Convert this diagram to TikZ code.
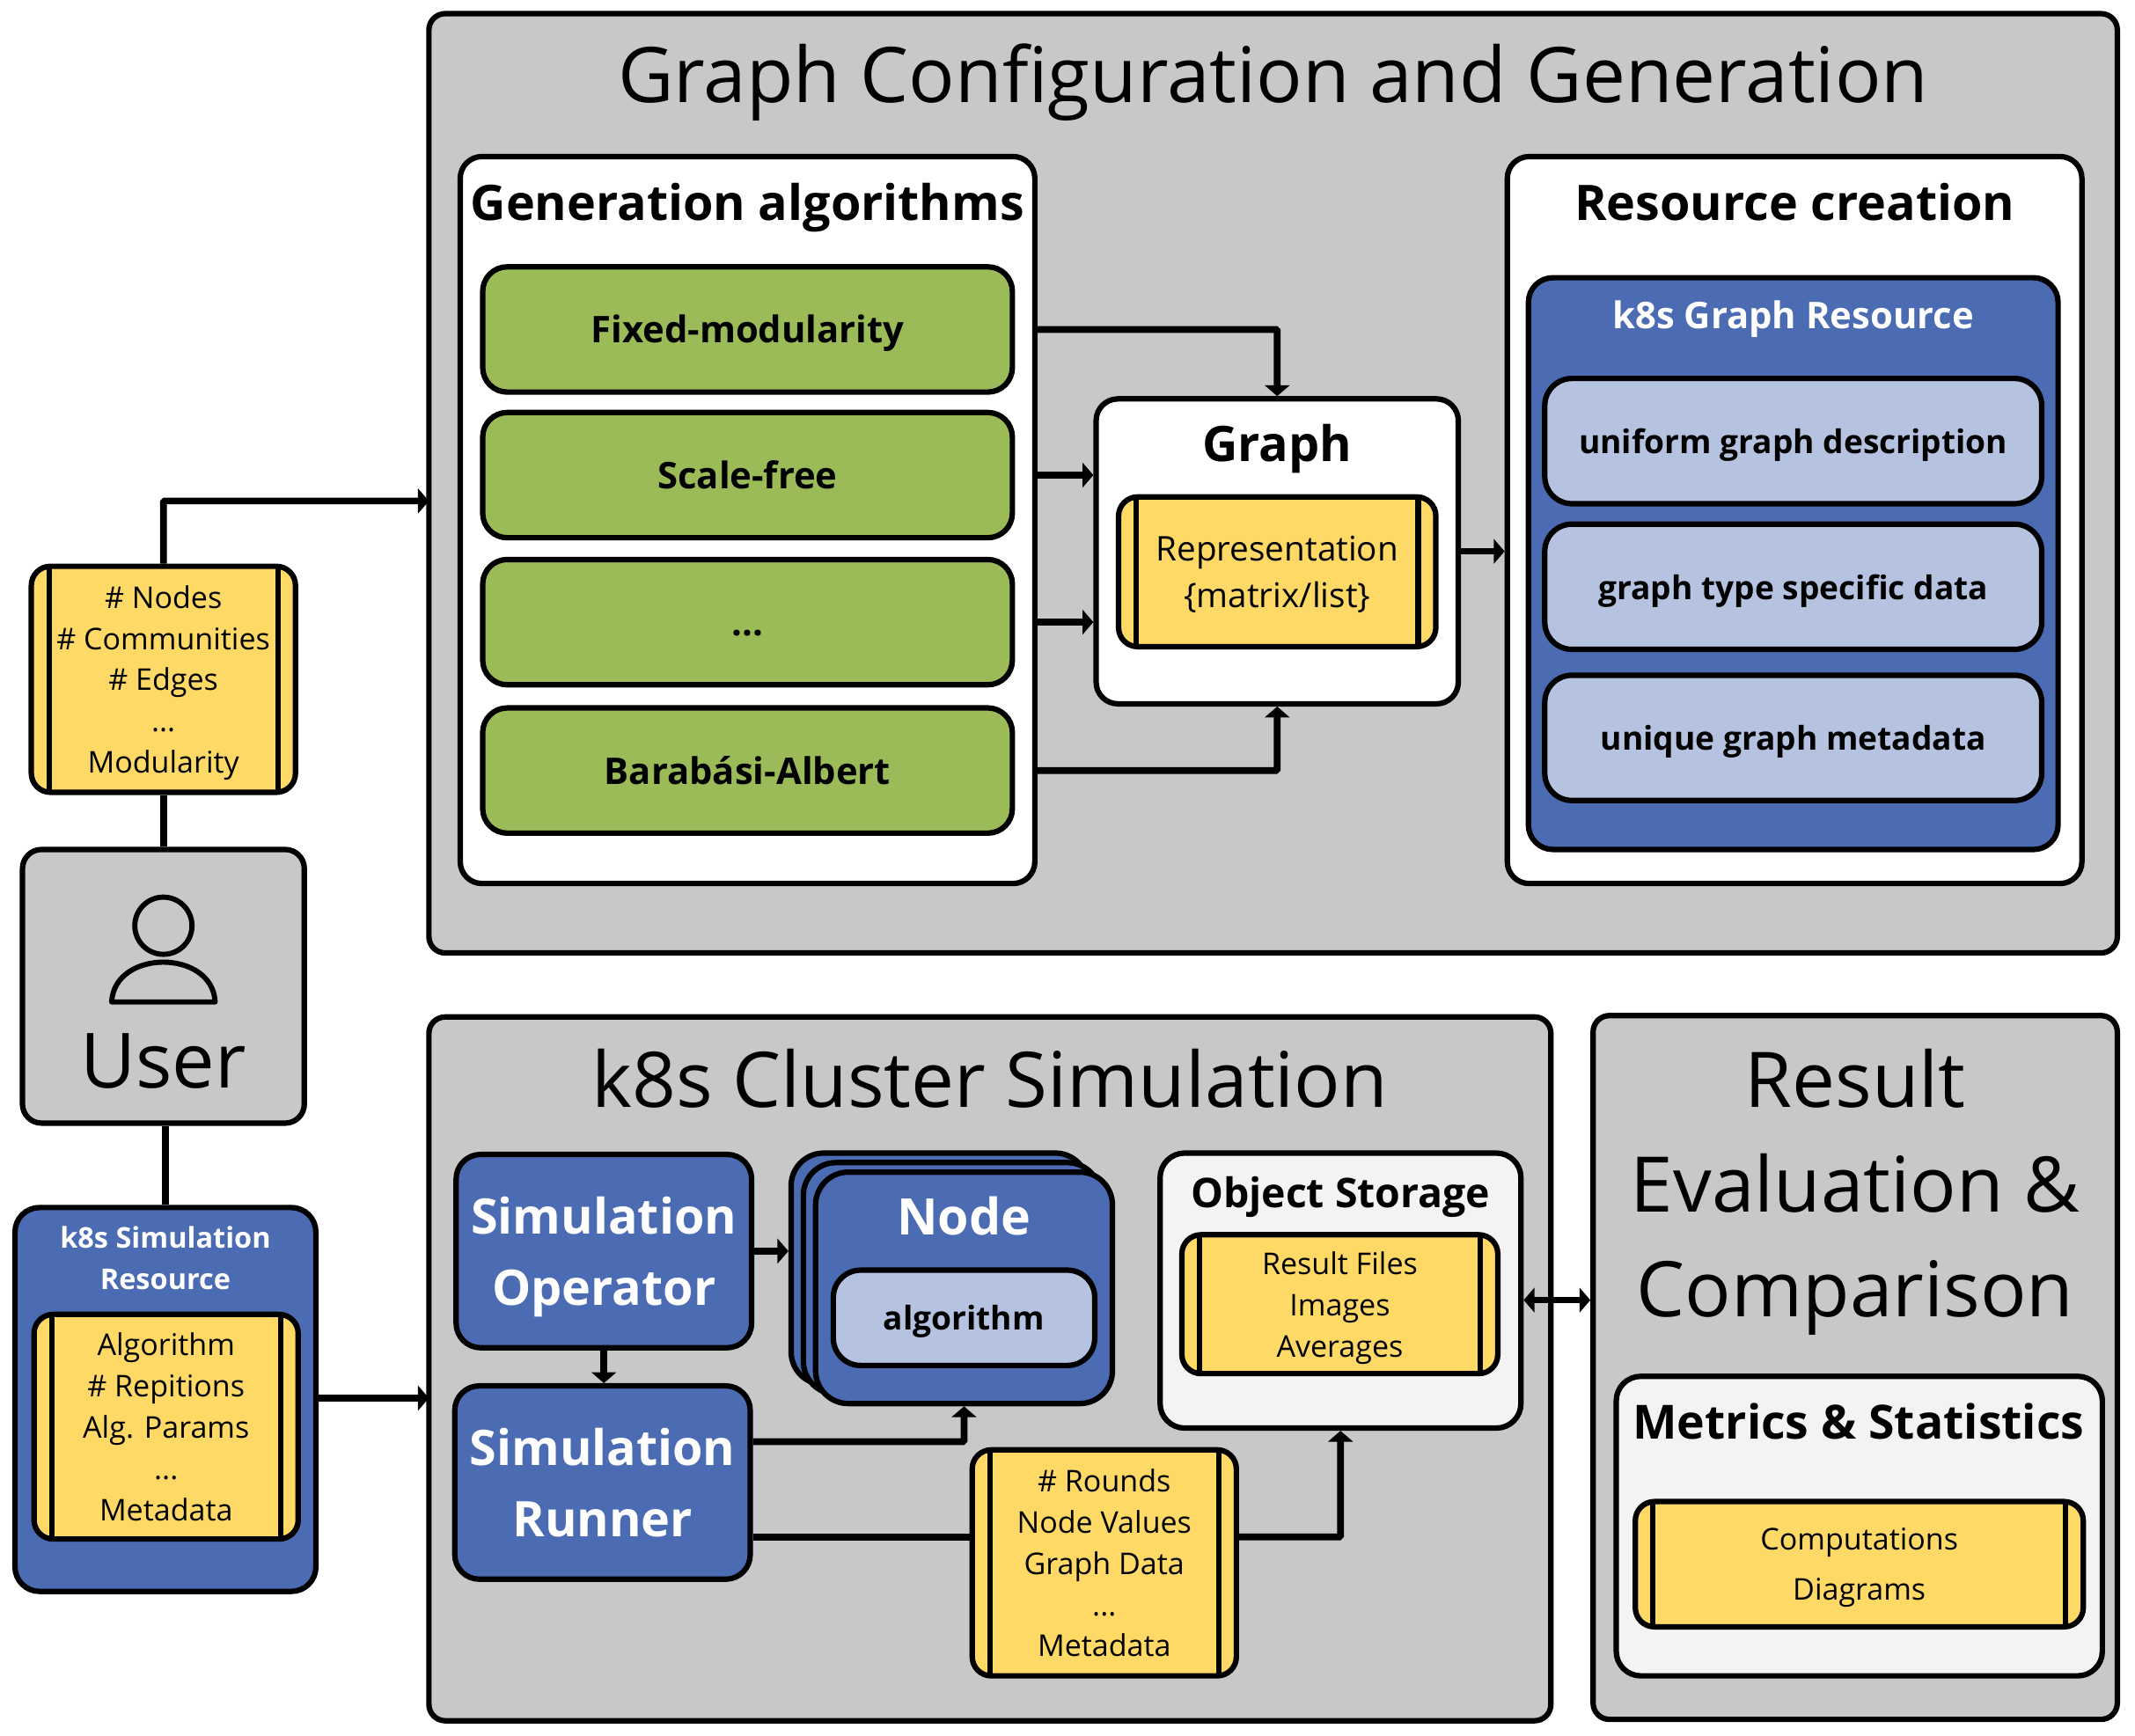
\documentclass[tikz,border=0pt]{standalone}
\usepackage{fontspec}
\setmainfont{Open Sans}
\usepackage{xcolor}
\usetikzlibrary{arrows.meta, positioning, calc}
\definecolor{panelGray}{RGB}{200, 200, 200}
\definecolor{paleGray}{RGB}{243, 243, 243}
\definecolor{k8sBlue}{RGB}{75, 107, 179}
\definecolor{paleBlue}{RGB}{181, 194, 224}
\definecolor{algoGreen}{RGB}{155, 187, 89}
\definecolor{dataYellow}{RGB}{255, 217, 102}
\newcommand{\fs}[2]{\fontsize{#1}{#2}\selectfont}
\tikzset{
    basebox/.style n args={2}{draw=black, line width=4pt, align=center, minimum width=#1, minimum height=#2, inner sep=0pt, text depth=0pt},
    panel/.style 2 args={basebox={#1}{#2}, fill=panelGray, rounded corners=12pt},
    whitebox/.style 2 args={basebox={#1}{#2}, fill=white, rounded corners=16pt},
    palebox/.style 2 args={basebox={#1}{#2}, fill=paleGray, rounded corners=18pt},
    algobox/.style 2 args={basebox={#1}{#2}, fill=algoGreen, rounded corners=18pt, text height=20pt, font=\fs{27}{33}\bfseries},
    bluebox/.style 2 args={basebox={#1}{#2}, fill=k8sBlue, rounded corners=18pt},
    lightbox/.style 2 args={basebox={#1}{#2}, fill=paleBlue, rounded corners=20pt, font=\fs{24}{30}\bfseries},
    databox/.style 2 args={basebox={#1}{#2}, fill=dataYellow, rounded corners=14pt, font=\fs{22}{30.3},
        path picture={
            \draw[line width=4pt] ([xshift=13pt]path picture bounding box.north west) -- ([xshift=13pt]path picture bounding box.south west);
            \draw[line width=4pt] ([xshift=-13pt]path picture bounding box.north east) -- ([xshift=-13pt]path picture bounding box.south east);
        }},
    conn/.style={line width=5pt, rounded corners=1pt},
    flow/.style={conn, -{Triangle[length=8pt, width=18pt]}},
    bothflow/.style={conn, {Triangle[length=8pt, width=18pt]}-{Triangle[length=8pt, width=18pt]}},
    heading/.style={font=\fs{56.4}{77}, align=center, inner sep=0pt, text depth=0pt},
    subheading/.style={font=\fs{36}{44}\bfseries, align=center, inner sep=0pt, text depth=0pt},
    bluelabel/.style={font=\fs{27}{36}\bfseries, text=white, align=center, inner sep=0pt, text depth=0pt},
    biglabel/.style={font=\fs{36}{52}\bfseries, text=white, align=center, text depth=0pt}
}

\begin{document}
\begin{tikzpicture}[x=1pt, y=-1pt]
    \useasboundingbox (0, 0) rectangle (1568, 1275);

    % Graph configuration panel
    \node[panel={1240pt}{690pt}] (graphpanel) at (935, 355) {};
    \node[heading] (graphtitle) at (935, 54) {Graph Configuration and Generation};

    % Generation algorithms
    \node[whitebox={422pt}{534pt}] (genbox) at (549, 382) {};
    \node[subheading] (gentitle) at (549, 148) {Generation algorithms};
    \node[algobox={389pt}{92pt}] (fixedmod) at (549, 242) {Fixed-modularity};
    \node[algobox={389pt}{92pt}] (scalefree) at (549, 349) {Scale-free};
    \node[algobox={389pt}{92pt}] (moregen) at (549, 457) {...};
    \node[algobox={389pt}{92pt}] (barabasi) at (549, 566) {Barabási-Albert};

    % Graph
    \node[whitebox={266pt}{224pt}] (graphbox) at (938, 405) {};
    \node[subheading] (graphlabel) at (938, 325) {Graph};
    \node[databox={233pt}{110pt}, font=\fs{25}{34}] (repr) at (938, 420) {Representation\\\{matrix/list\}};

    % Resource creation
    \node[whitebox={422pt}{534pt}] (resbox) at (1318, 382) {};
    \node[subheading] (restitle) at (1318, 148) {Resource creation};
    \node[bluebox={389pt}{420pt}] (graphres) at (1317, 414) {};
    \node[bluelabel] (graphreslabel) at (1317, 231) {k8s Graph Resource};
    \node[lightbox={365pt}{92pt}] (uniform) at (1317, 324) {uniform graph description};
    \node[lightbox={365pt}{92pt}] (typedata) at (1317, 431) {graph type specific data};
    \node[lightbox={365pt}{92pt}] (metadata) at (1317, 542) {unique graph metadata};

    % User side
    \node[databox={194pt}{166pt}] (params) at (120, 499) {\# Nodes\\\# Communities\\\# Edges\\...\\Modularity};
    \node[panel={207pt}{201pt}, rounded corners=14pt] (user) at (120, 724.5) {};
    \node[font=\fs{56}{70}, inner sep=0pt, text depth=0pt] (userlabel) at (120, 779) {User};
    \draw[line width=3.8pt] (120, 680) circle (21);
    \draw[line width=3.8pt, line join=round] (82, 736) .. controls (84, 697) and (156, 697) .. (158, 736) -- cycle;
    \node[bluebox={221pt}{282pt}] (simres) at (121.5, 1028) {};
    \node[bluelabel, font=\fs{21}{30.3}\bfseries] (simreslabel) at (121.5, 924) {k8s Simulation\\Resource};
    \node[databox={194pt}{165pt}] (simparams) at (122, 1048) {Algorithm\\\# Repitions\\Alg. Params\\...\\Metadata};

    % Cluster simulation panel
    \node[panel={824pt}{517pt}] (cluster) at (727, 1005.5) {};
    \node[heading] (clustertitle) at (727, 792) {k8s Cluster Simulation};
    \node[bluebox={217pt}{142pt}] (operator) at (443.5, 919) {};
    \node[biglabel] (operatorlabel) at (443.5, 919) {Simulation\\Operator};
    \node[bluebox={217pt}{142pt}] (runner) at (442.5, 1089) {};
    \node[biglabel] (runnerlabel) at (442.5, 1089) {Simulation\\Runner};
    \node[bluebox={218pt}{170pt}, rounded corners=24pt] (nodeback) at (690, 932) {};
    \node[bluebox={218pt}{170pt}, rounded corners=24pt] (nodemid) at (699, 939) {};
    \node[bluebox={218pt}{170pt}, rounded corners=24pt] (nodefront) at (708, 946) {};
    \node[biglabel, font=\fs{37}{52}\bfseries] (nodelabel) at (708, 893) {Node};
    \node[lightbox={192pt}{70pt}] (algorithm) at (708, 968) {algorithm};
    \node[palebox={265pt}{202pt}] (storage) at (984.5, 948) {};
    \node[subheading, font=\fs{30}{38}\bfseries] (storagelabel) at (984.5, 876) {Object Storage};
    \node[databox={232pt}{102pt}] (results) at (984, 958) {Result Files\\Images\\Averages};
    \node[databox={194pt}{166pt}] (rounds) at (811, 1148) {\# Rounds\\Node Values\\Graph Data\\...\\Metadata};

    % Result evaluation panel
    \node[panel={385pt}{517pt}] (evalpanel) at (1362.5, 1004.5) {};
    \node[heading] (evaltitle) at (1362.5, 869) {Result\\Evaluation \&\\Comparison};
    \node[palebox={357pt}{220pt}] (metrics) at (1365.5, 1121) {};
    \node[subheading, font=\fs{34.6}{42}\bfseries] (metricslabel) at (1365, 1044) {Metrics \& Statistics};
    \node[databox={329pt}{92pt}, font=\fs{22}{37}] (computations) at (1365.5, 1149) {Computations\\Diagrams};

    % Connector levels
    \coordinate (graphin) at (315, 368);
    \coordinate (clusterin) at (315, 1027);
    \coordinate (nodeline) at (630, 1059);
    \coordinate (dataline) at (630, 1129);
    \coordinate (evalline) at (1143, 955);

    % Arrows
    \draw[flow] (genbox.east |- fixedmod) -| (graphbox.north);
    \draw[flow] (genbox.east |- scalefree) -- (graphbox.west |- scalefree);
    \draw[flow] (genbox.east |- moregen) -- (graphbox.west |- moregen);
    \draw[flow] (genbox.east |- barabasi) -| (graphbox.south);
    \draw[flow] (graphbox.east) -- (resbox.west |- graphbox.east);
    \draw[flow] (params.north) |- (graphin);
    \draw[conn] (params.south) -- (user.north);
    \draw[conn] (user.south -| simres.north) -- (simres.north);
    \draw[flow] (simres.east |- clusterin) -- (clusterin);
    \draw[flow] (operator.east) -- (nodeback.west |- operator.east);
    \draw[flow] (operator.south) -- (runner.north -| operator.south);
    \draw[flow] (runner.east |- nodeline) -| (nodefront.south);
    \draw[conn] (runner.east |- dataline) -- (rounds.west |- dataline);
    \draw[flow] (rounds.east |- dataline) -| (storage.south);
    \draw[bothflow] (storage.east |- evalline) -- (evalpanel.west |- evalline);
\end{tikzpicture}
\end{document}
